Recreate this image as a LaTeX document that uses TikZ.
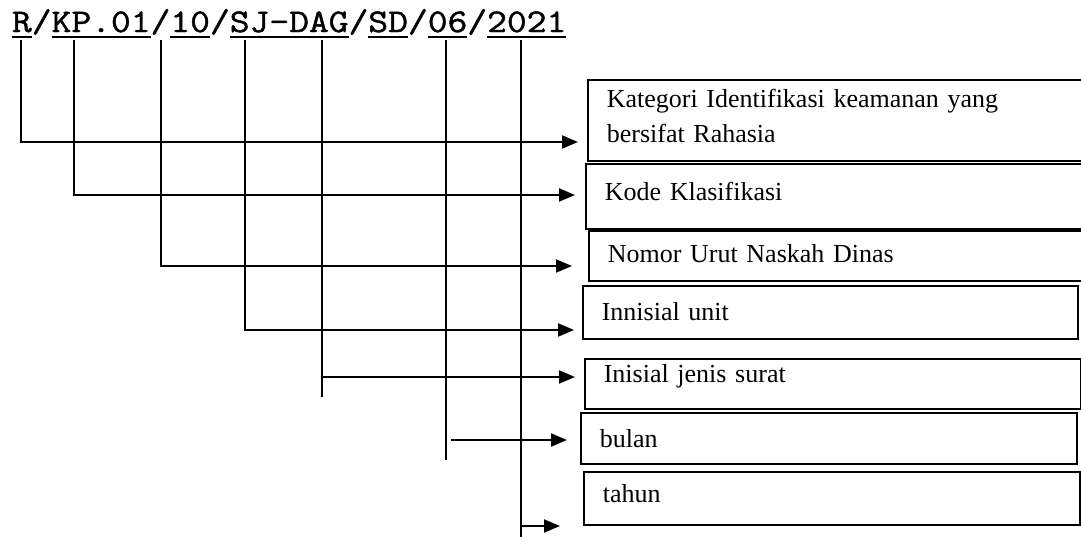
\documentclass[tikz,border=0pt]{standalone}
\usepackage{fontspec}
\setmainfont{Liberation Serif}
\newfontfamily\titlefont[FakeStretch=1.165,FakeBold=1.4]{Latin Modern Mono}
\usetikzlibrary{arrows.meta}
\begin{document}
\begin{tikzpicture}[x=1pt,y=-1pt,
  seg/.style={inner sep=0pt,outer sep=0pt,anchor=base west,font=\titlefont\fontsize{33}{33}\selectfont,text depth=0pt},
  uline/.style={line width=1.5pt},
  conn/.style={line width=2pt},
  arr/.style={conn,-{Triangle[length=16pt,width=13pt]}},
  box/.style={draw,line width=1.6pt,anchor=north west,inner ysep=0pt,inner xsep=19pt,align=left,font=\fontsize{26}{35}\selectfont}
]
\clip (0,0) rectangle (1081,536);
\fill[white] (0,0) rectangle (1081,536);

% title segments
\node[seg] (s1) at (12,32) {R};
\node[seg] (d1) at (s1.base east) {/};
\node[seg] (s2) at (d1.base east) {KP.01};
\node[seg] (d2) at (s2.base east) {/};
\node[seg] (s3) at (d2.base east) {10};
\node[seg] (d3) at (s3.base east) {/};
\node[seg] (s4) at (d3.base east) {SJ-DAG};
\node[seg] (d4) at (s4.base east) {/};
\node[seg] (s5) at (d4.base east) {SD};
\node[seg] (d5) at (s5.base east) {/};
\node[seg] (s6) at (d5.base east) {06};
\node[seg] (d6) at (s6.base east) {/};
\node[seg] (s7) at (d6.base east) {2021};
\foreach \s in {s1,s2,s3,s4,s5,s6,s7}
  \draw[uline] ([yshift=-5pt]\s.south west) -- ([yshift=-5pt]\s.south east);

% boxes
\node[box,text width=482pt,text height=28pt,text depth=53pt] (b1) at (587,79)
  {Kategori Identifikasi keamanan yang\\bersifat Rahasia};
\node[box,text width=482pt,text height=37pt,text depth=28pt] (b2) at (585,163) {Kode Klasifikasi};
\node[box,text width=482pt,text height=32pt,text depth=18pt] (b3) at (588,230) {Nomor Urut Naskah Dinas};
\node[box,text width=457pt,text height=35pt,text depth=18pt] (b4) at (582,285) {Innisial unit};
\node[box,text width=458pt,text height=24pt,text depth=26pt] (b5) at (584,358) {Inisial jenis surat};
\node[box,text width=458pt,text height=35pt,text depth=16pt] (b6) at (580,412) {bulan};
\node[box,text width=458pt,text height=31pt,text depth=22pt] (b7) at (583,471) {tahun};

% connector coordinates
\coordinate (t1) at (21,40);
\coordinate (t2) at (74,40);
\coordinate (t3) at (161,40);
\coordinate (t4) at (245,40);
\coordinate (t5) at (322,40);
\coordinate (t6) at (446,40);
\coordinate (t7) at (521,40);
\coordinate (e1) at (578,142);
\coordinate (e2) at (575,195);
\coordinate (e3) at (572,266);
\coordinate (e4) at (574,330);
\coordinate (e5) at (575,377);
\coordinate (e6) at (567,440);
\coordinate (e7) at (560,526);
\coordinate (v5) at (322,397);
\coordinate (v6) at (446,460);
\coordinate (v7) at (521,537);

\draw[arr] (t1) |- (e1);
\draw[arr] (t2) |- (e2);
\draw[arr] (t3) |- (e3);
\draw[arr] (t4) |- (e4);
\draw[conn] (t5) -- (v5);
\draw[arr] (t5 |- e5) -- (e5);
\draw[conn] (t6) -- (v6);
\draw[arr] ([xshift=5pt]t6 |- e6) -- (e6);
\draw[conn] (t7) -- (v7);
\draw[arr] (t7 |- e7) -- (e7);
\end{tikzpicture}
\end{document}
